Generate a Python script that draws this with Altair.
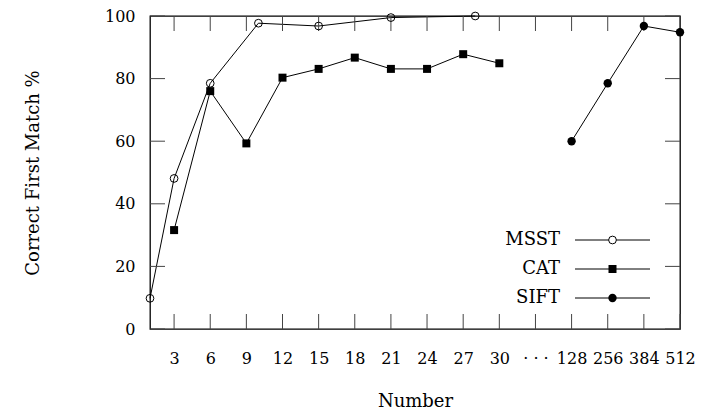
import altair as alt
import pandas as pd

# ---- data ----
tick_pos = [3, 6, 9, 12, 15, 18, 21, 24, 27, 30, 33, 36, 39, 42, 45]
tick_labels = ["3", "6", "9", "12", "15", "18", "21", "24", "27", "30",
               "· · ·", "128", "256", "384", "512"]
y_ticks = [0, 20, 40, 60, 80, 100]

msst_x = [1, 3, 6, 10, 15, 21, 28]
msst_y = [9.8, 48.1, 78.5, 97.7, 96.8, 99.5, 100.0]

cat_x = [3, 6, 9, 12, 15, 18, 21, 24, 27, 30]
cat_y = [31.6, 76.0, 59.3, 80.3, 83.1, 86.7, 83.1, 83.1, 87.8, 84.9]

sift_sizes = ["128", "256", "384", "512"]
sift_y = [60.0, 78.5, 96.8, 94.8]

series = ["MSST", "CAT", "SIFT"]

# ---- tables ----
sift_x = [tick_pos[tick_labels.index(s)] for s in sift_sizes]
msst = pd.DataFrame({"x": msst_x, "y": msst_y})
cat = pd.DataFrame({"x": cat_x, "y": cat_y})
sift = pd.DataFrame({"x": sift_x, "y": sift_y})
xt = pd.DataFrame({"x": tick_pos})
yt = pd.DataFrame({"y": y_ticks})
leg = pd.DataFrame({"series": series})

W, H = 530, 313
FONT = "DejaVu Serif"
TL = 15

label_expr = " : ".join(
    f"datum.value == {p} ? '{l}'" for p, l in zip(tick_pos, tick_labels)
) + " : ''"

xscale = alt.Scale(domain=[1, 45], nice=False, zero=False)
yscale = alt.Scale(domain=[0, 100], nice=False)

X = alt.X("x:Q", scale=xscale, axis=alt.Axis(
    values=tick_pos, labelExpr=label_expr, ticks=False, domain=False, grid=False,
    labelPadding=34, labelBaseline="alphabetic", labelFlush=False, labelOverlap=False,
    title="Number", titleBaseline="alphabetic", titleY=77.5,
))
Y = alt.Y("y:Q", scale=yscale, axis=alt.Axis(
    values=y_ticks, ticks=False, domain=False, grid=False,
    labelPadding=15, labelFlush=False,
    title="Correct First Match %", titleX=-112, titleY=156.5,
    titleBaseline="alphabetic",
))

tick_style = dict(color="#444", strokeWidth=1)
xt_bot = alt.Chart(xt).mark_rule(**tick_style).encode(x=X, y=alt.value(H), y2=alt.value(H - TL))
xt_top = alt.Chart(xt).mark_rule(**tick_style).encode(x=X, y=alt.value(0), y2=alt.value(TL))
yt_left = alt.Chart(yt).mark_rule(**tick_style).encode(y=Y, x=alt.value(0), x2=alt.value(TL))
yt_right = alt.Chart(yt).mark_rule(**tick_style).encode(y=Y, x=alt.value(W - TL), x2=alt.value(W))

line_style = dict(color="black", strokeWidth=1)
msst_line = alt.Chart(msst).mark_line(**line_style).encode(x=X, y=Y)
cat_line = alt.Chart(cat).mark_line(**line_style).encode(x=X, y=Y)
sift_line = alt.Chart(sift).mark_line(**line_style).encode(x=X, y=Y)

msst_pts = alt.Chart(msst).mark_point(shape="circle", filled=False, color="black",
                                      size=60, strokeWidth=1, opacity=1).encode(x=X, y=Y)
cat_pts = alt.Chart(cat).mark_point(shape="square", filled=True, color="black",
                                    size=64, opacity=1).encode(x=X, y=Y)
sift_pts = alt.Chart(sift).mark_point(shape="circle", filled=True, color="black",
                                      size=70, opacity=1).encode(x=X, y=Y)

main = alt.layer(msst_line, xt_bot, xt_top, yt_left, yt_right,
                 cat_line, sift_line,
                 msst_pts, cat_pts, sift_pts)

LY = alt.Y("series:N", scale=alt.Scale(type="point", domain=series, range=[224, 282], padding=0),
           axis=None)
leg_text = alt.Chart(leg).mark_text(font=FONT, fontSize=18, align="right", baseline="middle",
                                    color="black").encode(x=alt.value(410), y=LY, text="series:N")
leg_rule = alt.Chart(leg).mark_rule(color="black", strokeWidth=1).encode(
    x=alt.value(425), x2=alt.value(500), y=LY)
leg_msst = alt.Chart(leg).transform_filter(alt.datum.series == "MSST").mark_point(
    shape="circle", filled=True, fill="white", stroke="black", strokeWidth=1, size=60, opacity=1
).encode(x=alt.value(462.5), y=LY)
leg_cat = alt.Chart(leg).transform_filter(alt.datum.series == "CAT").mark_point(
    shape="square", filled=True, color="black", size=64, opacity=1
).encode(x=alt.value(462.5), y=LY)
leg_sift = alt.Chart(leg).transform_filter(alt.datum.series == "SIFT").mark_point(
    shape="circle", filled=True, color="black", size=70, opacity=1
).encode(x=alt.value(462.5), y=LY)
legend = alt.layer(leg_rule, leg_text, leg_msst, leg_cat, leg_sift)

chart = alt.layer(main, legend).resolve_scale(y="independent").properties(
    width=W, height=H,
    autosize=alt.AutoSizeParams(type="none"),
    padding={"left": 150, "top": 16, "right": 25, "bottom": 83},
    background="white",
).configure_view(
    stroke="black", strokeWidth=1.3
).configure_axis(
    labelFont=FONT, titleFont=FONT, labelFontSize=16, titleFontSize=18,
    labelColor="black", titleColor="black", titleFontWeight="normal",
)

chart.save("out.html", embed_options={"renderer": "svg", "actions": False})
